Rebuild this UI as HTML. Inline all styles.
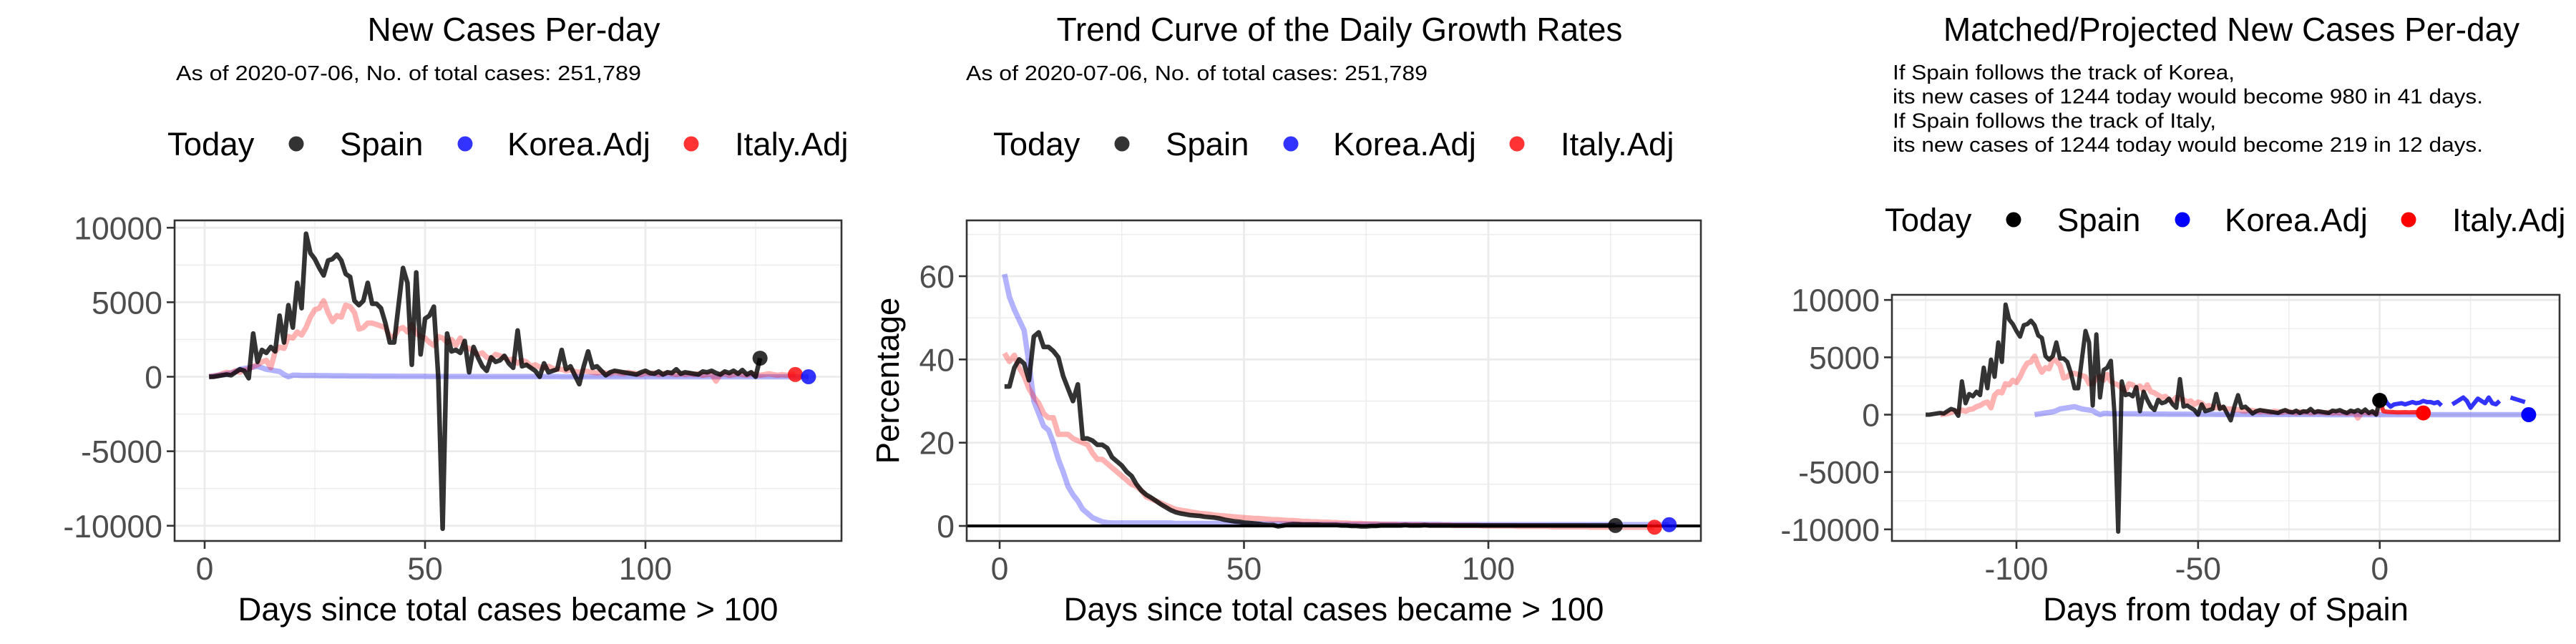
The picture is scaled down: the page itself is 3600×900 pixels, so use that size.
<!DOCTYPE html>
<html><head><meta charset="utf-8"><style>
html,body{margin:0;padding:0;background:#fff;}
svg{display:block;font-family:"Liberation Sans",Arial,sans-serif;}
</style></head><body>
<svg id="chart" width="3600" height="900" viewBox="0 0 3600 900" xmlns="http://www.w3.org/2000/svg"></svg>
<script>
// ---------- data ----------
const spainDaily = [0,0,50,100,150,100,300,500,400,-100,
2900,1000,1800,1600,2000,1700,4100,2300,4800,3300,
6300,4600,9600,8300,7900,7300,6800,7800,7900,8200,
7800,6900,6700,5100,4800,5100,6300,4900,4900,4600,
3600,2300,2300,4800,7300,6300,800,7000,1500,3900,
4100,4700,0,-10200,2900,1700,1800,1600,2400,300,
2000,1300,700,400,1300,1000,1100,1400,900,600,
3100,700,800,600,400,0,900,300,400,500,
1800,500,700,100,-500,700,1700,600,700,400,
100,300,400,350,300,250,200,150,300,400,
250,200,350,150,300,250,500,200,300,250,
200,150,350,300,400,250,150,350,250,400,
200,450,150,300,0,1244];
const italyDaily = [0,50,100,200,300,250,400,300,450,500,
700,800,1000,1100,600,1700,2000,1900,2700,2600,
3000,2800,3300,4000,4500,4600,5100,4300,3700,4100,
4000,4800,4700,4300,3200,3300,3600,3600,3500,3400,
3300,2700,2700,3200,3300,3000,3500,2900,2700,2600,
2300,2100,2700,2600,2300,2500,2100,2600,2000,1900,
1700,1500,1600,1300,1200,1500,1400,1300,1100,1200,
900,1100,1000,700,800,650,600,700,550,500,
500,400,450,350,300,400,350,300,250,300,
250,200,300,250,200,300,250,200,150,250,
200,250,150,200,250,200,150,200,150,200,
150,200,100,150,200,-300,150,200,100,150,
200,150,100,200,150,100,150,200,150,100,
150,100,150,150];
const koreaDaily = [0,50,100,150,200,250,350,500,550,600,
650,700,600,500,450,400,350,150,0,100,
100,80,80,80,80,70,70,70,60,60,
60,60,50,50,50,50,50,40,40,40,
40,40,40,30,30,30,30,30,30,30,
20,20,20,20,20,20,20,20,20,20,
10,10,10,10,10,10,10,10,10,10,
10,10,10,10,10,10,10,10,10,10,
0,0,0,0,0,0,0,0,0,0,
0,0,0,0,0,0,0,0,0,0,
0,0,0,0,0,0,0,0,0,0,
0,0,0,0,0,0,0,0,0,0,
0,0,0,0,0,0,0,0,0,0,
0,0,0,0,0,0,0];
const spainGrowth = [33.5,33.5,38,40,39,35,45.5,46.5,43,43,
42,40.5,36,33,30,34,21,21,20.5,19.5,
19.5,18.7,16.5,15.5,14.5,13,12,10,8.5,7.5,
6.8,6,5.2,4.5,3.8,3.3,3,2.8,2.6,2.5,
2.4,2.2,2.1,2,1.8,1.5,1.3,1.1,1,0.8,
0.7,0.6,0.5,0.3,0.2,0.2,-0.1,0.1,0.3,0.4,
0.4,0.3,0.3,0.3,0.3,0.2,0.2,0.2,0.2,0.1,
0.1,0,0,-0.1,-0.1,0,0,0.1,0.1,0.1,
0.1,0.1,0.2,0.1,0.1,0.1,0.2,0.1,0.1,0.1,
0.1,0.1,0.1,0.1,0.1,0.1,0.1,0.1,0.1,0.1,
0.1,0.1,0.1,0.1,0.1,0.1,0.1,0.1,0.1,0.1,
0.1,0.1,0.1,0.1,0.1,0.1,0.1,0.1,0.1,0.1,
0.1,0.1,0.1,0.1,0.1,0.1];
const italyGrowth = [41.5,39.5,41,38,36,33,31,29.5,27,26,
26,22,22,22,21,20.5,20,19.5,17.5,16,
16,15,14,13,12,11,10,9.5,8.5,7,
6.5,6,5.5,5,4.5,4,3.8,3.6,3.4,3.2,
3,2.9,2.8,2.6,2.5,2.4,2.3,2.2,2.1,2,
1.9,1.8,1.8,1.7,1.6,1.5,1.5,1.4,1.3,1.3,
1.2,1.1,1.1,1,1,0.9,0.9,0.8,0.8,0.7,
0.7,0.6,0.6,0.6,0.5,0.5,0.5,0.4,0.4,0.4,
0.4,0.3,0.3,0.3,0.3,0.3,0.2,0.2,0.2,0.2,
0.2,0.2,0.1,0.1,0.1,0.1,0.1,0.1,0,0,
0,0,0,0,0,-0.1,-0.1,-0.1,-0.1,-0.1,
-0.1,-0.1,-0.2,-0.2,-0.2,-0.2,-0.2,-0.2,-0.2,-0.2,
-0.3,-0.3,-0.3,-0.3,-0.3,-0.3,-0.3,-0.3,-0.3,-0.3,
-0.3,-0.3,-0.3,-0.3];
const koreaGrowth = [60.5,55,52,49.5,47,39,30,27,24,23,
20,16,13,9.5,7.5,6,4,3,2,1.5,
1,0.8,0.7,0.7,0.7,0.7,0.7,0.7,0.7,0.7,
0.7,0.7,0.7,0.7,0.7,0.6,0.6,0.6,0.6,0.6,
0.6,0.6,0.6,0.6,0.6,0.5,0.5,0.5,0.5,0.5,
0.5,0.5,0.5,0.5,0.5,0.5,0.5,0.5,0.5,0.5,
0.4,0.4,0.4,0.4,0.4,0.4,0.4,0.4,0.4,0.4,
0.4,0.4,0.4,0.4,0.4,0.4,0.4,0.4,0.4,0.4,
0.4,0.4,0.4,0.4,0.4,0.4,0.4,0.4,0.4,0.4,
0.3,0.3,0.3,0.3,0.3,0.3,0.3,0.3,0.3,0.3,
0.3,0.3,0.3,0.3,0.3,0.3,0.3,0.3,0.3,0.3,
0.3,0.3,0.3,0.3,0.3,0.3,0.3,0.3,0.3,0.3,
0.3,0.3,0.3,0.3,0.3,0.3,0.3,0.3,0.3,0.3,
0.3,0.3,0.3,0.3,0.3,0.3,0.3];
const koreaProjDays = [0,1,2,3,4,5,6,7,8,9,10,11,12,13,14,15,16,17,18,19,20,21,22,23,24,25,26,27,28,29,30,31,32,33,34,35,36,37,38,39,40];
const koreaProjVals = [1244,1600,1000,700,900,950,1000,900,1000,1100,1000,1050,1200,1100,1100,1000,1100,800,null,null,900,1100,1300,1500,1200,600,1000,1400,1200,1000,1500,1000,900,1200,null,null,1500,1400,1300,1200,1100];
const italyProjDays = [0,1,2,3,4,5,6,7,8,9,10,11,12];
const italyProjVals = [1244,300,250,230,220,200,210,220,200,210,220,200,150];
const todaySpain = 1244;
const offsetSpain = 126, offsetItaly = 122, offsetKorea = 96;
const yTicksCases = [-10000,-5000,0,5000,10000];
const yMinorCases = [-7500,-2500,2500,7500];
const xTicksDays = [0,50,100];
const xMinorDays = [25,75,125];
const yTicksPct = [0,20,40,60];
const yMinorPct = [10,30,50,70];
const xTicksRel = [-100,-50,0];
const xMinorRel = [-125,-75,-25,25];
const legendLabels = ['Spain','Korea.Adj','Italy.Adj'];

// ---------- helpers ----------
const NS = 'http://www.w3.org/2000/svg';
const svg = document.getElementById('chart');
function mk(tag, attrs, parent){
  const e = document.createElementNS(NS, tag);
  for (const k in attrs) e.setAttribute(k, attrs[k]);
  (parent||svg).appendChild(e);
  return e;
}
function txt(s, attrs, parent){ const t = mk('text', attrs, parent); t.textContent = s; return t; }

function panel(cfg){
  const g = mk('g', {});
  
  
  const {L,R,T,B,xs,ys} = cfg;
  const grid = mk('g', {}, g);
  
  
  cfg.yMinor.forEach(v => { const y = ys(v); if (y>T && y<B) mk('line',{x1:L,x2:R,y1:y,y2:y,stroke:'#ebebeb','stroke-width':1.3},grid); });
  cfg.xMinor.forEach(v => { const x = xs(v); if (x>L && x<R) mk('line',{x1:x,x2:x,y1:T,y2:B,stroke:'#ebebeb','stroke-width':1.3},grid); });
  cfg.yTicks.forEach(v => mk('line',{x1:L,x2:R,y1:ys(v),y2:ys(v),stroke:'#ebebeb','stroke-width':2.8},grid));
  cfg.xTicks.forEach(v => mk('line',{x1:xs(v),x2:xs(v),y1:T,y2:B,stroke:'#ebebeb','stroke-width':2.8},grid));
  const plot = mk('g', {}, g);
  
  
  cfg.draw(plot);
  const frame = mk('rect',{x:L,y:T,width:R-L,height:B-T,fill:'none',stroke:'#333','stroke-width':2.6},g);
  
  
  cfg.yTicks.forEach(v => {
    const y = ys(v);
    mk('line',{x1:L-11,x2:L,y1:y,y2:y,stroke:'#333','stroke-width':2.6},g);
    const t = txt(String(v),{x:L-17,y:y+16,'text-anchor':'end','font-size':44.5,fill:'#4d4d4d'},g);
    
    
  });
  cfg.xTicks.forEach(v => {
    const x = xs(v);
    mk('line',{x1:x,x2:x,y1:B,y2:B+11,stroke:'#333','stroke-width':2.6},g);
    const t = txt(String(v),{x:x,y:810,'text-anchor':'middle','font-size':44.5,fill:'#4d4d4d'},g);
    
    
  });
  const xt = txt(cfg.xTitle,{x:(L+R)/2,y:867,'text-anchor':'middle','font-size':45.5,fill:'#000'},g);
  
  
  const tt = txt(cfg.title,{x:(L+R)/2+8,y:57,'text-anchor':'middle','font-size':46,fill:'#000'},g);
  
  
  // legend
  const lg = mk('g', {}, g);
  
  
  const lx = cfg.legX, ly = cfg.legY;
  const lt = txt('Today',{x:lx,y:ly+16,'font-size':45.5,fill:'#000'},lg);
  
  
  const dotOff=[180,416,732], txtOff=[241,475,793];
  legendLabels.forEach((lab,i) => {
    const c = mk('circle',{cx:lx+dotOff[i],cy:ly,r:10.5,fill:cfg.legColors[i],'fill-opacity':cfg.legAlpha},lg);
    
    
    const t = txt(lab,{x:lx+txtOff[i],y:ly+16,'font-size':45.5,fill:'#000'},lg);
    
    
  });
  return g;
}
function pathFrom(xsArr, vals, xs, ys){
  let d = '', pen = false;
  for (let i=0;i<vals.length;i++){
    const v = vals[i];
    if (v === null || v === undefined){ pen = false; continue; }
    d += (pen?'L':'M') + xs(xsArr[i]).toFixed(1) + ',' + ys(v).toFixed(1);
    pen = true;
  }
  return d;
}
function line(parent, name, xArr, vals, xs, ys, color, op, w){
  const p = mk('path',{d:pathFrom(xArr,vals,xs,ys),fill:'none',stroke:color,'stroke-opacity':op,'stroke-width':w,'stroke-linejoin':'round','stroke-linecap':'butt'},parent);
  
  
  return p;
}
function dot(parent, name, x, y, color, op){
  const c = mk('circle',{cx:x,cy:y,r:10.5,fill:color,'fill-opacity':op},parent);
  
  
}
const idx = (arr, off) => arr.map((_,i) => i+1-off);

// ---------- panel 1 ----------
{
  const xs = d => 286 + d*6.16, ys = v => 526.5 - v*0.020825;
  panel({name:'new-cases-panel',L:244,R:1176,T:308,B:756,xs,ys,
    yTicks:yTicksCases,yMinor:yMinorCases,xTicks:xTicksDays,xMinor:xMinorDays,
    xTitle:'Days since total cases became > 100',title:'New Cases Per-day',
    legX:234,legY:201,legColors:['#000','#0000ff','#ff0000'],legAlpha:0.8,
    draw:(p)=>{
      line(p,'korea-adj-line',idx(koreaDaily,0),koreaDaily,xs,ys,'#0000ff',0.3,7.5);
      line(p,'italy-adj-line',idx(italyDaily,0),italyDaily,xs,ys,'#ff0000',0.3,7.5);
      line(p,'spain-line',idx(spainDaily,0),spainDaily,xs,ys,'#000',0.8,6.5);
      dot(p,'spain-today-point',xs(spainDaily.length),ys(spainDaily[spainDaily.length-1]),'#000',0.8);
      dot(p,'italy-end-point',xs(italyDaily.length),ys(italyDaily[italyDaily.length-1]),'#ff0000',0.8);
      dot(p,'korea-end-point',xs(koreaDaily.length),ys(koreaDaily[koreaDaily.length-1]),'#0000ff',0.8);
    }});
  const s = txt('As of 2020-07-06, No. of total cases: 251,789',{x:246,y:112,'font-size':28.5,fill:'#000',textLength:650,lengthAdjust:'spacingAndGlyphs'});
  
  
}
// ---------- panel 2 ----------
{
  const xs = d => 1397 + d*6.83, ys = v => 735 - v*5.8167;
  panel({name:'growth-rate-panel',L:1351,R:2377,T:308,B:756,xs,ys,
    yTicks:yTicksPct,yMinor:yMinorPct,xTicks:xTicksDays,xMinor:xMinorDays,
    xTitle:'Days since total cases became > 100',title:'Trend Curve of the Daily Growth Rates',
    legX:1388,legY:201,legColors:['#000','#0000ff','#ff0000'],legAlpha:0.8,
    draw:(p)=>{
      line(p,'korea-adj-growth-line',idx(koreaGrowth,0),koreaGrowth,xs,ys,'#0000ff',0.3,7.5);
      line(p,'italy-adj-growth-line',idx(italyGrowth,0),italyGrowth,xs,ys,'#ff0000',0.3,7.5);
      line(p,'spain-growth-line',idx(spainGrowth,0),spainGrowth,xs,ys,'#000',0.8,6.5);
      const h = mk('line',{x1:1351,x2:2377,y1:ys(0),y2:ys(0),stroke:'#000','stroke-width':4},p);
      
      
      dot(p,'spain-today-point',xs(spainGrowth.length),ys(spainGrowth[spainGrowth.length-1]),'#000',0.8);
      dot(p,'italy-end-point',xs(italyGrowth.length),ys(italyGrowth[italyGrowth.length-1]),'#ff0000',0.8);
      dot(p,'korea-end-point',xs(koreaGrowth.length),ys(koreaGrowth[koreaGrowth.length-1]),'#0000ff',0.8);
    }});
  const yl = txt('Percentage',{x:0,y:0,'text-anchor':'middle','font-size':45.5,fill:'#000',transform:'translate(1256,532) rotate(-90)'});
  
  
  const s = txt('As of 2020-07-06, No. of total cases: 251,789',{x:1350,y:112,'font-size':28.5,fill:'#000',textLength:645,lengthAdjust:'spacingAndGlyphs'});
  
  
}
// ---------- panel 3 ----------
{
  const xs = d => 3325.7 + d*5.077, ys = v => 579.5 - v*0.01603;
  panel({name:'projected-cases-panel',L:2644,R:3577,T:412,B:756,xs,ys,
    yTicks:yTicksCases,yMinor:yMinorCases,xTicks:xTicksRel,xMinor:xMinorRel,
    xTitle:'Days from today of Spain',title:'Matched/Projected New Cases Per-day',
    legX:2634,legY:307,legColors:['#000','#0000ff','#ff0000'],legAlpha:1,
    draw:(p)=>{
      line(p,'korea-adj-line',idx(koreaDaily,offsetKorea),koreaDaily,xs,ys,'#0000ff',0.3,7.5);
      line(p,'italy-adj-line',idx(italyDaily,offsetItaly).filter(d=>d<=0),italyDaily.slice(0,offsetItaly),xs,ys,'#ff0000',0.3,7.5);
      line(p,'spain-line',idx(spainDaily,offsetSpain),spainDaily,xs,ys,'#000',0.8,6);
      line(p,'korea-projection-line',koreaProjDays,koreaProjVals,xs,ys,'#0000ff',0.8,6);
      line(p,'italy-projection-line',italyProjDays,italyProjVals,xs,ys,'#ff0000',0.8,6);
      dot(p,'spain-today-point',xs(0),ys(todaySpain),'#000',1);
      dot(p,'italy-projected-point',xs(italyProjDays[italyProjDays.length-1]),ys(italyProjVals[italyProjVals.length-1]),'#ff0000',1);
      dot(p,'korea-projected-point',xs(koreaDaily.length-offsetKorea),ys(koreaDaily[koreaDaily.length-1]),'#0000ff',1);
    }});
  const lines = ['If Spain follows the track of Korea,','its new cases of 1244 today would become 980 in 41 days.','If Spain follows the track of Italy,','its new cases of 1244 today would become 219 in 12 days.'];
  const widths = [478,825,452,825];
  lines.forEach((s,i) => {
    const t = txt(s,{x:2645,y:111+i*33.7,'font-size':28.5,fill:'#000',textLength:widths[i],lengthAdjust:'spacingAndGlyphs'});
    
    
  });
}
</script>
</body></html>
